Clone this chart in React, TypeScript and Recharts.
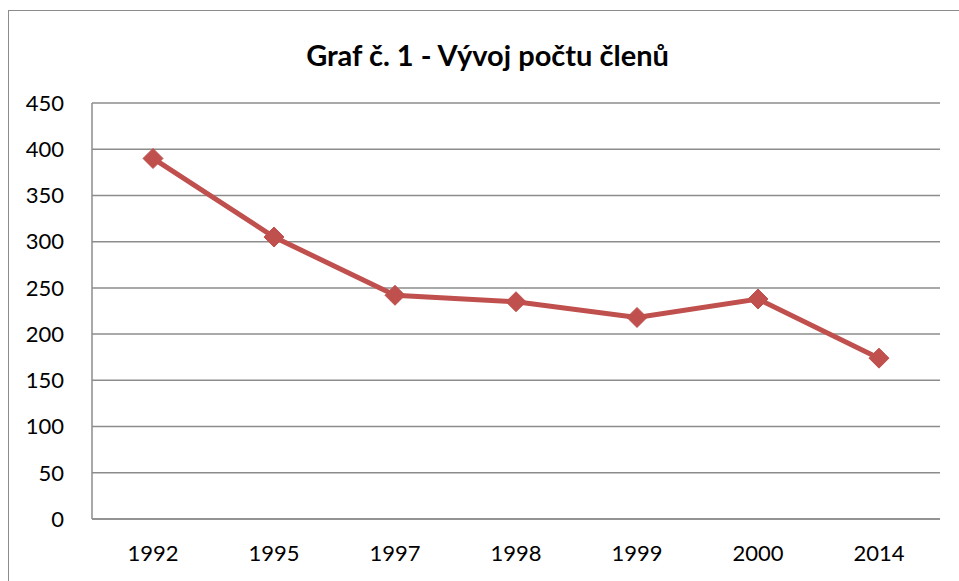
import { LineChart, Line, XAxis, YAxis, CartesianGrid } from 'recharts';

const years = ['1992', '1995', '1997', '1998', '1999', '2000', '2014'];
const members = [390, 305, 242, 235, 218, 238, 174];
const yTicks = [0, 50, 100, 150, 200, 250, 300, 350, 400, 450];

const data = years.map((year, i) => ({ year, members: members[i] }));

const FONT = 'Lato, "Noto Sans", sans-serif';
const LINE_COLOR = '#C0504D';

// diamond marker like the spreadsheet default
const Diamond = ({ cx, cy }: any) => {
  if (cx == null || cy == null) return null;
  const r = 10;
  return (
    <polygon
      points={`${cx},${cy - r} ${cx + r},${cy} ${cx},${cy + r} ${cx - r},${cy}`}
      fill={LINE_COLOR}
      stroke={LINE_COLOR}
      strokeWidth={1}
    />
  );
};

export default function App() {
  return (
    <div style={{ position: 'absolute', left: 0, top: 0, width: 959, height: 581, background: '#fff', overflow: 'hidden' }}>
      <div
        style={{
          position: 'absolute',
          left: 8,
          top: 10,
          width: 1000,
          height: 700,
          border: '1.5px solid #8c8c8c',
          boxSizing: 'border-box',
        }}
      />
      <div
        style={{
          position: 'absolute',
          left: 0,
          width: 975,
          top: 37,
          textAlign: 'center',
          fontFamily: FONT,
          fontWeight: 700,
          fontSize: 29,
          lineHeight: '35px',
          color: '#000',
        }}
      >
        Graf č. 1 - Vývoj počtu členů
      </div>
      <div style={{ position: 'absolute', left: 0, top: 0 }}>
        <LineChart width={959} height={581} data={data} margin={{ top: 103, right: 19, bottom: 0, left: 32 }}>
          <CartesianGrid vertical={false} stroke="#8c8c8c" strokeWidth={1.5} />
          <XAxis
            dataKey="year"
            height={62}
            padding={{ left: 61, right: 61 }}
            axisLine={{ stroke: '#8c8c8c', strokeWidth: 1.5 }}
            tickLine={false}
            tickSize={0}
            tickMargin={26}
            tick={{ fill: '#000', fontSize: 22, fontFamily: FONT }}
          />
          <YAxis
            width={60}
            domain={[0, 450]}
            ticks={yTicks}
            interval={0}
            axisLine={{ stroke: '#8c8c8c', strokeWidth: 1.5 }}
            tickLine={false}
            tickSize={0}
            tickMargin={28}
            tick={{ fill: '#000', fontSize: 22, fontFamily: FONT }}
          />
          <Line
            type="linear"
            dataKey="members"
            stroke={LINE_COLOR}
            strokeWidth={5}
            dot={<Diamond />}
            activeDot={false}
            isAnimationActive={false}
          />
        </LineChart>
      </div>
    </div>
  );
}
